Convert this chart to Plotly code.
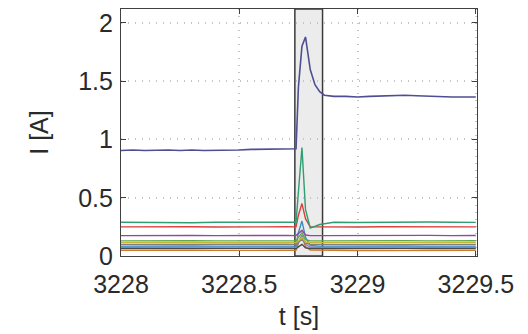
import plotly.graph_objects as go

# time grid for the main (blue) current trace
t_main = [3228.00, 3228.05, 3228.10, 3228.15, 3228.20, 3228.25, 3228.30, 3228.35, 3228.40,
          3228.45, 3228.50, 3228.55, 3228.60, 3228.65, 3228.70, 3228.74, 3228.75, 3228.765,
          3228.78, 3228.79, 3228.80, 3228.82, 3228.84, 3228.86, 3228.90, 3228.95, 3229.00,
          3229.05, 3229.10, 3229.15, 3229.20, 3229.25, 3229.30, 3229.35, 3229.40, 3229.45, 3229.50]
i_main = [0.905, 0.91, 0.905, 0.91, 0.91, 0.905, 0.91, 0.905, 0.905,
          0.91, 0.91, 0.915, 0.915, 0.92, 0.92, 0.92, 1.45, 1.80,
          1.88, 1.75, 1.60, 1.47, 1.41, 1.38, 1.37, 1.37, 1.365,
          1.37, 1.375, 1.375, 1.38, 1.375, 1.37, 1.37, 1.365, 1.365, 1.365]

# time grid for the smaller currents
t_small = [3228.0, 3228.1, 3228.2, 3228.3, 3228.4, 3228.5, 3228.6, 3228.7, 3228.74, 3228.75,
           3228.765, 3228.78, 3228.80, 3228.84, 3228.9, 3229.0, 3229.1, 3229.2, 3229.3, 3229.4, 3229.5]

i_green = [0.29, 0.288, 0.292, 0.286, 0.29, 0.291, 0.287, 0.29, 0.29, 0.55,
           0.93, 0.40, 0.24, 0.27, 0.29, 0.288, 0.291, 0.289, 0.292, 0.29, 0.289]
i_red = [0.25, 0.252, 0.248, 0.251, 0.249, 0.252, 0.25, 0.251, 0.25, 0.35,
         0.45, 0.32, 0.25, 0.25, 0.252, 0.249, 0.251, 0.25, 0.252, 0.249, 0.25]
i_purple = [0.175, 0.177, 0.174, 0.176, 0.175, 0.177, 0.175, 0.176, 0.175, 0.19,
            0.22, 0.18, 0.175, 0.175, 0.176, 0.174, 0.176, 0.175, 0.177, 0.175, 0.176]
i_green2 = [0.13, 0.132, 0.128, 0.131, 0.13, 0.129, 0.131, 0.13, 0.13, 0.16,
            0.20, 0.14, 0.13, 0.13, 0.131, 0.129, 0.13, 0.132, 0.13, 0.129, 0.131]
i_olive = [0.115, 0.117, 0.114, 0.116, 0.115, 0.114, 0.116, 0.115, 0.115, 0.13,
           0.16, 0.12, 0.115, 0.115, 0.116, 0.114, 0.115, 0.117, 0.115, 0.116, 0.115]
i_gray = [0.10, 0.101, 0.099, 0.1, 0.102, 0.099, 0.1, 0.101, 0.1, 0.12,
          0.14, 0.11, 0.1, 0.1, 0.101, 0.099, 0.1, 0.1, 0.101, 0.099, 0.1]
i_cyan = [0.085, 0.087, 0.084, 0.086, 0.085, 0.084, 0.086, 0.085, 0.085, 0.20,
          0.30, 0.16, 0.09, 0.085, 0.086, 0.084, 0.085, 0.086, 0.085, 0.084, 0.085]
i_lavender = [0.075, 0.076, 0.074, 0.075, 0.077, 0.074, 0.075, 0.076, 0.075, 0.12,
              0.18, 0.10, 0.075, 0.075, 0.076, 0.074, 0.075, 0.076, 0.075, 0.074, 0.075]
i_dark = [0.065, 0.066, 0.064, 0.065, 0.066, 0.064, 0.065, 0.066, 0.065, 0.08,
          0.10, 0.07, 0.065, 0.065, 0.066, 0.064, 0.065, 0.066, 0.065, 0.064, 0.065]
i_orange = [0.048, 0.05, 0.047, 0.049, 0.048, 0.05, 0.048, 0.049, 0.048, 0.11,
            0.17, 0.08, 0.05, 0.048, 0.049, 0.047, 0.048, 0.05, 0.048, 0.049, 0.048]

small_series = [
    (i_green, '#2f9e72'), (i_red, '#d8423a'), (i_purple, '#8e4aa0'),
    (i_green2, '#5eaa48'), (i_olive, '#c9b43c'), (i_gray, '#808080'),
    (i_cyan, '#3a8fc0'), (i_lavender, '#8a7cc4'), (i_dark, '#4a4a4a'),
    (i_orange, '#d0782e'),
]

window = [3228.735, 3228.852]
x_ticks = [3228, 3228.5, 3229, 3229.5]
x_labels = ['3228', '3228.5', '3229', '3229.5']
y_ticks = [0, 0.5, 1, 1.5, 2]
y_labels = ['0', '0.5', '1', '1.5', '2']

fig = go.Figure()

fig.add_shape(type='rect', xref='x', yref='paper', x0=window[0], x1=window[1], y0=0, y1=1,
              fillcolor='#ececec', line=dict(color='#3a3a3a', width=1.5), layer='below')

for vals, col in small_series[::-1]:
    fig.add_trace(go.Scatter(x=t_small, y=vals, mode='lines',
                             line=dict(color=col, width=1.4), showlegend=False))

fig.add_trace(go.Scatter(x=t_main, y=i_main, mode='lines',
                         line=dict(color='#4e4e92', width=1.6), showlegend=False))

axis_common = dict(showline=True, linecolor='#404040', linewidth=1.2, mirror='ticks',
                   ticks='inside', ticklen=5, tickcolor='#404040',
                   showgrid=True, gridcolor='#c4c4c4', griddash='1px,6px', gridwidth=1.5,
                   zeroline=False,
                   tickfont=dict(family='Liberation Sans', size=25, color='#2a2a2a'))

fig.update_xaxes(range=[3228, 3229.505], tickvals=x_ticks, ticktext=x_labels,
                 ticklabelstandoff=6,
                 title=dict(text='t [s]', standoff=10,
                            font=dict(family='Liberation Sans', size=25, color='#2a2a2a')),
                 **axis_common)
fig.update_yaxes(range=[0, 2.12], tickvals=y_ticks, ticktext=y_labels,
                 ticklabelstandoff=2,
                 title=dict(text='I [A]', standoff=22,
                            font=dict(family='Liberation Sans', size=25, color='#2a2a2a')),
                 **axis_common)

fig.update_layout(width=528, height=334, margin=dict(l=121, r=51, t=8, b=76),
                  paper_bgcolor='white', plot_bgcolor='white')

fig.write_html('out.html')
